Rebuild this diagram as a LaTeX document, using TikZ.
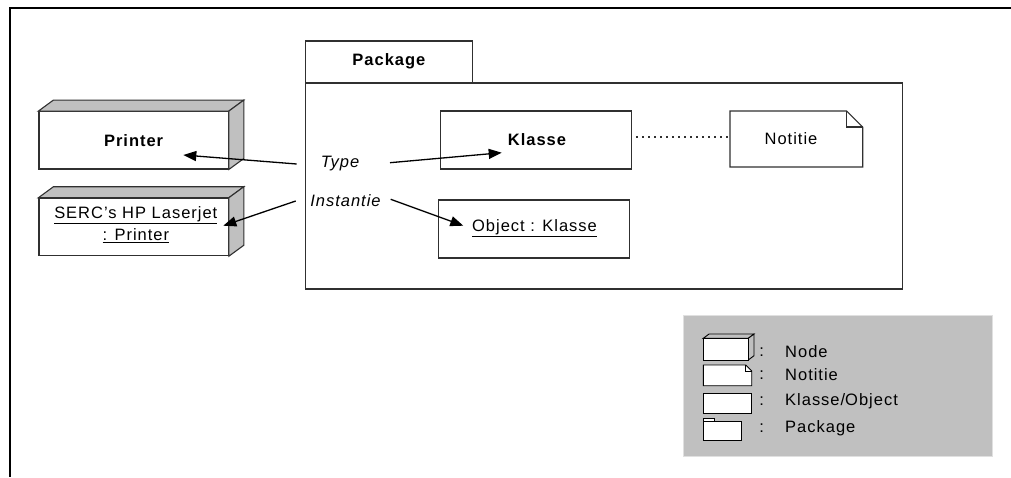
\documentclass[tikz,border=0pt]{standalone}
\usepackage{fontspec}
\setmainfont{Liberation Sans}[LetterSpace=6]
\usetikzlibrary{arrows.meta,calc}
\definecolor{facegray}{HTML}{C0C0C0}
\definecolor{edgegray}{HTML}{303030}
\tikzset{
  x=1pt, y=-1pt,
  lbl/.style={font=\fontsize{16.5}{19}\selectfont, inner sep=0pt},
  box/.style={draw=edgegray, line width=1.1pt, fill=white, inner sep=0pt},
  face/.style={draw=edgegray, line width=1.1pt, fill=facegray, line join=miter},
  arr/.style={line width=1.3pt, -{Triangle[length=13pt,width=10pt]}},
  link/.style={line width=1.2pt, edgegray, dash pattern=on 1.3pt off 4.7pt},
  mini/.style={draw=black, line width=0.9pt, fill=white},
  minif/.style={draw=black, line width=0.9pt, fill=facegray}
}
\begin{document}
\begin{tikzpicture}
\useasboundingbox (0,0) rectangle (1011,477);
% outer frame (top and left edges only)
\draw[line width=2.8pt] (1011,8) -- (10,8) -- (10,477);

% package: tab and body
\node[box, minimum width=167.7pt, minimum height=42pt] (pkgtab) at (388.9,62) {};
\node[lbl, font=\fontsize{16.5}{19}\selectfont\bfseries] (pkgname) at (388.9,61.5) {Package};
\node[box, minimum width=597.7pt, minimum height=206pt] (pkg) at (603.9,186) {};

% 3D node: Printer
\node[box, minimum width=189.3pt, minimum height=57.3pt] (printer) at (133.6,140.3) {};
\draw[face] (printer.north west) -- ++(15,-11) -- ($(printer.north east)+(15,-11)$) -- (printer.north east) -- cycle;
\draw[face] (printer.north east) -- ++(15,-11) -- ($(printer.south east)+(15,-11)$) -- (printer.south east) -- cycle;
\node[lbl, font=\fontsize{16.5}{19}\selectfont\bfseries] (printerlbl) at (133.6,141) {Printer};

% 3D node: SERC's HP Laserjet
\node[box, minimum width=189.3pt, minimum height=57.4pt] (serc) at (133.6,227) {};
\draw[face] (serc.north west) -- ++(15,-11) -- ($(serc.north east)+(15,-11)$) -- (serc.north east) -- cycle;
\draw[face] (serc.north east) -- ++(15,-11) -- ($(serc.south east)+(15,-11)$) -- (serc.south east) -- cycle;
\node[lbl] (serc1) at (135.8,215.5) {\underline{SERC's HP Laserjet}};
\node[lbl] (serc2) at (135.8,236) {\underline{: Printer}};

% class, object and note
\node[box, minimum width=191pt, minimum height=58pt] (klasse) at (536.2,140) {};
\node[lbl, font=\fontsize{16.5}{19}\selectfont\bfseries] (klasselbl) at (537,140) {Klasse};
\node[box, minimum width=190.7pt, minimum height=58pt] (object) at (533.7,229) {};
\node[lbl] (objectlbl) at (534.5,228.5) {\underline{Object : Klasse}};
\coordinate (nNW) at (730,111);
\coordinate (nSE) at (862.7,167);
\draw[box] (nNW) -- (846.7,111) -- (862.7,127) -- (nSE) -- (730,167) -- cycle;
\draw[edgegray, line width=1.1pt] (846.7,111) -- (846.7,127) -- (862.7,127);
\node[lbl] (notitie) at (791,139) {Notitie};
\draw[link] ($(klasse.east |- 0,137)+(4,0)$) -- (nNW |- 0,137);

% Type / Instantie labels and arrows
\node[lbl, font=\fontsize{16.5}{19}\selectfont\itshape] (type) at (340,164) {Type};
\node[lbl, font=\fontsize{16.5}{19}\selectfont\itshape] (inst) at (345.5,200.5) {Instantie};
\coordinate (typeL) at (296.7,164);
\coordinate (typeR) at (390,162.7);
\coordinate (instL) at (295.7,201);
\coordinate (instR) at (390.7,199.3);
\coordinate (printerTip) at (183.3,155);
\coordinate (klasseTip) at (501.7,152.7);
\coordinate (sercTip) at (223.3,225.7);
\coordinate (objectTip) at (463.3,225.7);
\draw[arr] (typeL) -- (printerTip);
\draw[arr] (typeR) -- (klasseTip);
\draw[arr] (instL) -- (sercTip);
\draw[arr] (instR) -- (objectTip);

% legend
\node[draw=white!88!black, line width=1pt, fill=facegray, minimum width=309pt, minimum height=141pt, inner sep=0pt] (legend) at (837.8,385.5) {};
% node icon
\draw[minif] (703.3,338.3) -- (709,334) -- (754,334) -- (748.3,338.3) -- cycle;
\draw[minif] (748.3,338.3) -- (754,334) -- (754,355.7) -- (748.3,360) -- cycle;
\draw[mini] (703.3,338.3) rectangle (748.3,360);
% note icon
\draw[mini] (703.3,365) -- (745.7,365) -- (751.7,371) -- (751.7,385.7) -- (703.3,385.7) -- cycle;
\draw[black, line width=0.7pt] (745.7,365) -- (745.7,371) -- (751.7,371);
% class icon
\draw[mini] (703.3,393.3) rectangle (751.7,413.3);
% package icon
\draw[mini] (703.3,418.3) rectangle (714.3,421.7);
\draw[mini] (703.3,421.7) rectangle (741.7,440);
% legend texts
\foreach \yy/\nm/\tx in {351.7/lNode/Node, 375/lNote/Notitie, 401/lClass/Klasse\slash Object, 428.3/lPkg/Package}{
  \node[lbl, anchor=center] at (761.7,\yy) {:};
  \node[lbl, anchor=west] (\nm) at (785,\yy) {\tx};
}
\end{tikzpicture}
\end{document}
